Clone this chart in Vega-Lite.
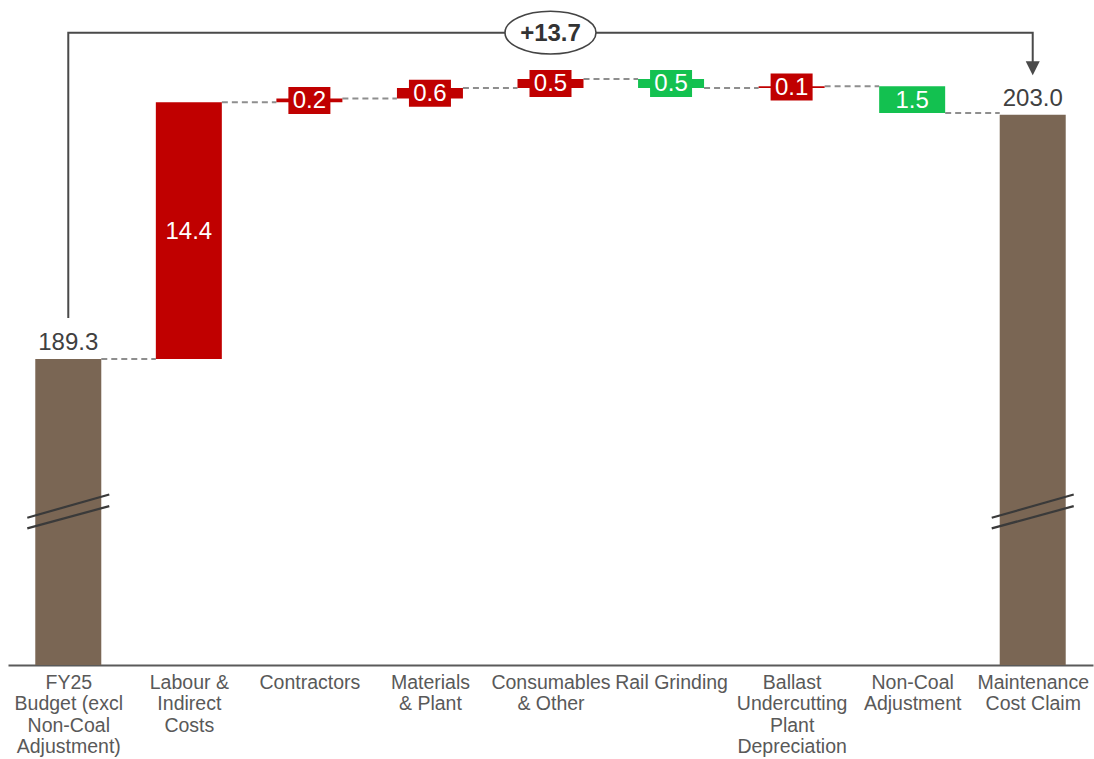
{
  "$schema": "https://vega.github.io/schema/vega-lite/v6.json",
  "width": 1085,
  "height": 665,
  "padding": {"left": 8, "top": 0, "right": 1, "bottom": 94},
  "autosize": {"type": "none"},
  "config": {
    "view": {"stroke": null},
    "font": "Liberation Sans",
    "text": {"font": "Liberation Sans"}
  },
  "datasets": {
    "steps": [
      {"step": 1, "name": "FY25 Budget (excl Non-Coal Adjustment)", "kind": "total", "value": 189.3, "start": null, "end": 189.3},
      {"step": 2, "name": "Labour & Indirect Costs", "kind": "increase", "value": 14.4, "start": 189.3, "end": 203.7},
      {"step": 3, "name": "Contractors", "kind": "increase", "value": 0.2, "start": 203.7, "end": 203.9},
      {"step": 4, "name": "Materials & Plant", "kind": "increase", "value": 0.6, "start": 203.9, "end": 204.5},
      {"step": 5, "name": "Consumables & Other", "kind": "increase", "value": 0.5, "start": 204.5, "end": 205.0},
      {"step": 6, "name": "Rail Grinding", "kind": "decrease", "value": 0.5, "start": 205.0, "end": 204.5},
      {"step": 7, "name": "Ballast Undercutting Plant Depreciation", "kind": "increase", "value": 0.1, "start": 204.5, "end": 204.6},
      {"step": 8, "name": "Non-Coal Adjustment", "kind": "decrease", "value": 1.5, "start": 204.6, "end": 203.1},
      {"step": 9, "name": "Maintenance Cost Claim", "kind": "total", "value": 203.0, "start": null, "end": 203.0}
    ],
    "axisBreaks": [
      {"step": 1, "y_left": 180.4, "y_right": 181.7},
      {"step": 1, "y_left": 179.8, "y_right": 181.05},
      {"step": 9, "y_left": 180.4, "y_right": 181.7},
      {"step": 9, "y_left": 179.8, "y_right": 181.05}
    ],
    "bracket": [
      {"ord": 1, "step": 1, "level": 191.6},
      {"ord": 2, "step": 1, "level": 207.6},
      {"ord": 3, "step": 9, "level": 207.6},
      {"ord": 4, "step": 9, "level": 205.9}
    ],
    "arrowHead": [{"step": 9, "level": 205.6}],
    "change": [{"step": 5, "level": 207.6, "change": 13.7}]
  },
  "layer": [
    {
      "data": {"name": "steps"},
      "transform": [
        {"filter": "datum.step < 9"},
        {"calculate": "datum.step + 1", "as": "next"}
      ],
      "mark": {"type": "rule", "color": "#8e8e8e", "strokeWidth": 2, "strokeDash": [6, 4], "xOffset": 33, "x2Offset": -33},
      "encoding": {
        "x": {"field": "step", "type": "quantitative", "scale": {"domain": [0.5, 9.5], "nice": false, "zero": false, "padding": 0},
          "axis": {
            "values": [1, 2, 3, 4, 5, 6, 7, 8, 9],
            "labelExpr": "[['FY25','Budget (excl','Non-Coal','Adjustment)'],['Labour &','Indirect','Costs'],['Contractors'],['Materials','& Plant'],['Consumables','& Other'],['Rail Grinding'],['Ballast','Undercutting','Plant','Depreciation'],['Non-Coal','Adjustment'],['Maintenance','Cost Claim']][datum.value - 1]",
            "title": null,
            "ticks": false,
            "grid": false,
            "domainColor": "#5a5a5a",
            "domainWidth": 2,
            "labelFont": "Liberation Sans",
            "labelFontSize": 19.5,
            "labelColor": "#595959",
            "labelPadding": 8,
            "labelLineHeight": 21.5,
            "labelOverlap": false,
            "labelBound": false,
            "labelFlush": false
          }
        },
        "x2": {"field": "next"},
        "y": {"field": "end", "type": "quantitative", "scale": {"domain": [172.14, 209.43], "nice": false, "zero": false}, "axis": null}
      }
    },
    {
      "data": {"name": "steps"},
      "transform": [{"filter": "datum.kind === 'total'"}],
      "mark": {"type": "bar", "width": 66, "color": "#7a6654"},
      "encoding": {
        "x": {"field": "step", "type": "quantitative"},
        "y": {"field": "end", "type": "quantitative"},
        "y2": {"datum": 172.14}
      }
    },
    {
      "data": {"name": "steps"},
      "transform": [{"filter": "datum.kind !== 'total'"}],
      "mark": {"type": "bar", "width": 66},
      "encoding": {
        "x": {"field": "step", "type": "quantitative"},
        "y": {"field": "start", "type": "quantitative"},
        "y2": {"field": "end"},
        "color": {"field": "kind", "type": "nominal", "scale": {"domain": ["increase", "decrease"], "range": ["#c00000", "#13c150"]}, "legend": null}
      }
    },
    {
      "data": {"name": "steps"},
      "transform": [
        {"filter": "datum.kind !== 'total' && datum.value < 1"},
        {"calculate": "(datum.start + datum.end) / 2", "as": "mid"}
      ],
      "mark": {"type": "point", "filled": true, "opacity": 1, "size": 1764, "shape": "M-1,-0.643H1V0.643H-1Z", "strokeWidth": 0},
      "encoding": {
        "x": {"field": "step", "type": "quantitative"},
        "y": {"field": "mid", "type": "quantitative"},
        "color": {"field": "kind", "type": "nominal", "legend": null}
      }
    },
    {
      "data": {"name": "steps"},
      "transform": [
        {"filter": "datum.kind !== 'total'"},
        {"calculate": "(datum.start + datum.end) / 2", "as": "mid"}
      ],
      "mark": {"type": "text", "color": "#ffffff", "fontSize": 24, "baseline": "middle", "align": "center", "dy": 1},
      "encoding": {
        "x": {"field": "step", "type": "quantitative"},
        "y": {"field": "mid", "type": "quantitative"},
        "text": {"field": "value", "type": "quantitative", "format": ".1f"}
      }
    },
    {
      "data": {"name": "steps"},
      "transform": [{"filter": "datum.kind === 'total'"}],
      "mark": {"type": "text", "color": "#404040", "fontSize": 24, "baseline": "alphabetic", "align": "center", "dy": -9},
      "encoding": {
        "x": {"field": "step", "type": "quantitative"},
        "y": {"field": "end", "type": "quantitative"},
        "text": {"field": "value", "type": "quantitative", "format": ".1f"}
      }
    },
    {
      "data": {"name": "axisBreaks"},
      "mark": {"type": "rule", "color": "#3a3a3a", "strokeWidth": 2.2, "xOffset": -41, "x2Offset": 41},
      "encoding": {
        "x": {"field": "step", "type": "quantitative"},
        "x2": {"field": "step"},
        "y": {"field": "y_left", "type": "quantitative"},
        "y2": {"field": "y_right"}
      }
    },
    {
      "data": {"name": "bracket"},
      "mark": {"type": "line", "color": "#4a4a4a", "strokeWidth": 2, "interpolate": "linear"},
      "encoding": {
        "x": {"field": "step", "type": "quantitative"},
        "y": {"field": "level", "type": "quantitative"},
        "order": {"field": "ord", "type": "quantitative"}
      }
    },
    {
      "data": {"name": "arrowHead"},
      "mark": {"type": "point", "filled": true, "opacity": 1, "color": "#4a4a4a", "size": 196, "shape": "M-1,-1L1,-1L0,1Z", "strokeWidth": 0},
      "encoding": {
        "x": {"field": "step", "type": "quantitative"},
        "y": {"field": "level", "type": "quantitative"}
      }
    },
    {
      "data": {"name": "change"},
      "mark": {"type": "point", "filled": true, "opacity": 1, "fill": "#ffffff", "fillOpacity": 1, "stroke": "#444444", "strokeWidth": 1.6, "size": 8281, "shape": "M-1,0A1,0.47,0,1,1,1,0A1,0.47,0,1,1,-1,0Z"},
      "encoding": {
        "x": {"field": "step", "type": "quantitative"},
        "y": {"field": "level", "type": "quantitative"}
      }
    },
    {
      "data": {"name": "change"},
      "mark": {"type": "text", "color": "#333333", "fontSize": 24, "fontWeight": "bold", "baseline": "middle", "align": "center", "dy": 1},
      "encoding": {
        "x": {"field": "step", "type": "quantitative"},
        "y": {"field": "level", "type": "quantitative"},
        "text": {"field": "change", "type": "quantitative", "format": "+.1f"}
      }
    }
  ]
}
